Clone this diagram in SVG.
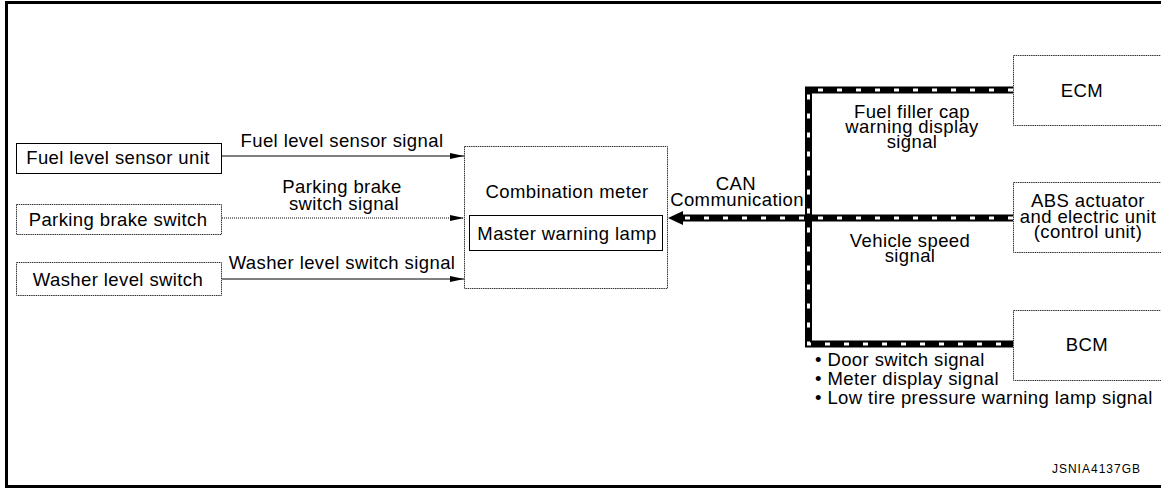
<svg xmlns="http://www.w3.org/2000/svg" width="1161" height="489" viewBox="0 0 1161 489">
<style>
text{font-family:"Liberation Sans",Arial,sans-serif;font-size:18.5px;letter-spacing:0.4px;fill:#000}
.m{text-anchor:middle}
.box{fill:#fff;stroke:#000;stroke-width:1}
.dbox{fill:#fff;stroke:#333;stroke-width:1;stroke-dasharray:1.5 0.7}
.sig{stroke:#000;stroke-width:1;fill:none}
.dot{stroke:#000;stroke-width:1;fill:none;stroke-dasharray:1 1}
.busb{stroke:#000;stroke-width:7;fill:none}
.busw{stroke:#fff;stroke-width:3;fill:none;stroke-dasharray:5 14}
.id{font-size:12px;letter-spacing:1px;text-anchor:end}
</style>
<defs>
<marker id="ah" viewBox="0 0 14 6" refX="14" refY="3" markerWidth="14" markerHeight="6" markerUnits="userSpaceOnUse" orient="auto">
<path d="M0,0 L14,3 L0,6 Z" fill="#000"/>
</marker>
</defs>
<path d="M1161,2.5 H6.5 V486.5 H1161" fill="none" stroke="#000" stroke-width="3"/>

<g id="connectors">
<line class="sig" x1="222" y1="156" x2="464" y2="156" marker-end="url(#ah)"/>
<line class="dot" x1="222" y1="218" x2="464" y2="218" marker-end="url(#ah)"/>
<line class="sig" x1="222" y1="279" x2="464" y2="279" marker-end="url(#ah)"/>
<path class="busb" d="M1013,90 H808.5 V344 H1013"/>
<path class="busw" d="M1013,90 H808.5 V344 H1013"/>
<line class="busb" x1="1013" y1="218" x2="682" y2="218"/>
<line class="busw" x1="1013" y1="218" x2="682" y2="218"/>
<path d="M668,218 L683,211 L683,225 Z" fill="#000"/>
<text class="m" x="342" y="147">Fuel level sensor signal</text>
<text class="m" x="342" y="193">Parking brake</text>
<text class="m" x="344" y="210">switch signal</text>
<text class="m" x="342" y="269">Washer level switch signal</text>
<text class="m" x="736" y="190">CAN</text>
<text class="m" x="737" y="206">Communication</text>
<text class="m" x="912" y="118">Fuel filler cap</text>
<text class="m" x="912" y="133">warning display</text>
<text class="m" x="912" y="148">signal</text>
<text class="m" x="910" y="247">Vehicle speed</text>
<text class="m" x="910" y="262">signal</text>
<text x="815" y="366">• Door switch signal</text>
<text x="815" y="385">• Meter display signal</text>
<text x="815" y="404">• Low tire pressure warning lamp signal</text>
</g>

<g id="fuel-sensor">
<rect class="box" x="16.5" y="143.5" width="205" height="30"/>
<text class="m" x="118" y="164">Fuel level sensor unit</text>
</g>
<g id="parking-brake">
<rect class="dbox" x="16.5" y="204.5" width="205" height="30"/>
<text class="m" x="118" y="226">Parking brake switch</text>
</g>
<g id="washer">
<rect class="dbox" x="16.5" y="262.5" width="205" height="33"/>
<text class="m" x="118" y="286">Washer level switch</text>
</g>
<g id="combination-meter">
<rect class="dbox" x="464.5" y="146.5" width="203" height="142"/>
<text class="m" x="567" y="198">Combination meter</text>
<rect class="box" x="469.5" y="215.5" width="193" height="35"/>
<text class="m" x="567" y="240">Master warning lamp</text>
</g>
<g id="ecm">
<rect class="dbox" x="1013.5" y="55.5" width="160" height="70"/>
<text class="m" x="1082" y="97">ECM</text>
</g>
<g id="abs">
<rect class="dbox" x="1013.5" y="182.5" width="160" height="70"/>
<text class="m" x="1088" y="207">ABS actuator</text>
<text class="m" x="1088" y="223">and electric unit</text>
<text class="m" x="1088" y="238">(control unit)</text>
</g>
<g id="bcm">
<rect class="dbox" x="1013.5" y="310.5" width="160" height="70"/>
<text class="m" x="1087" y="351">BCM</text>
</g>
<text class="id" x="1141" y="473">JSNIA4137GB</text>
</svg>
